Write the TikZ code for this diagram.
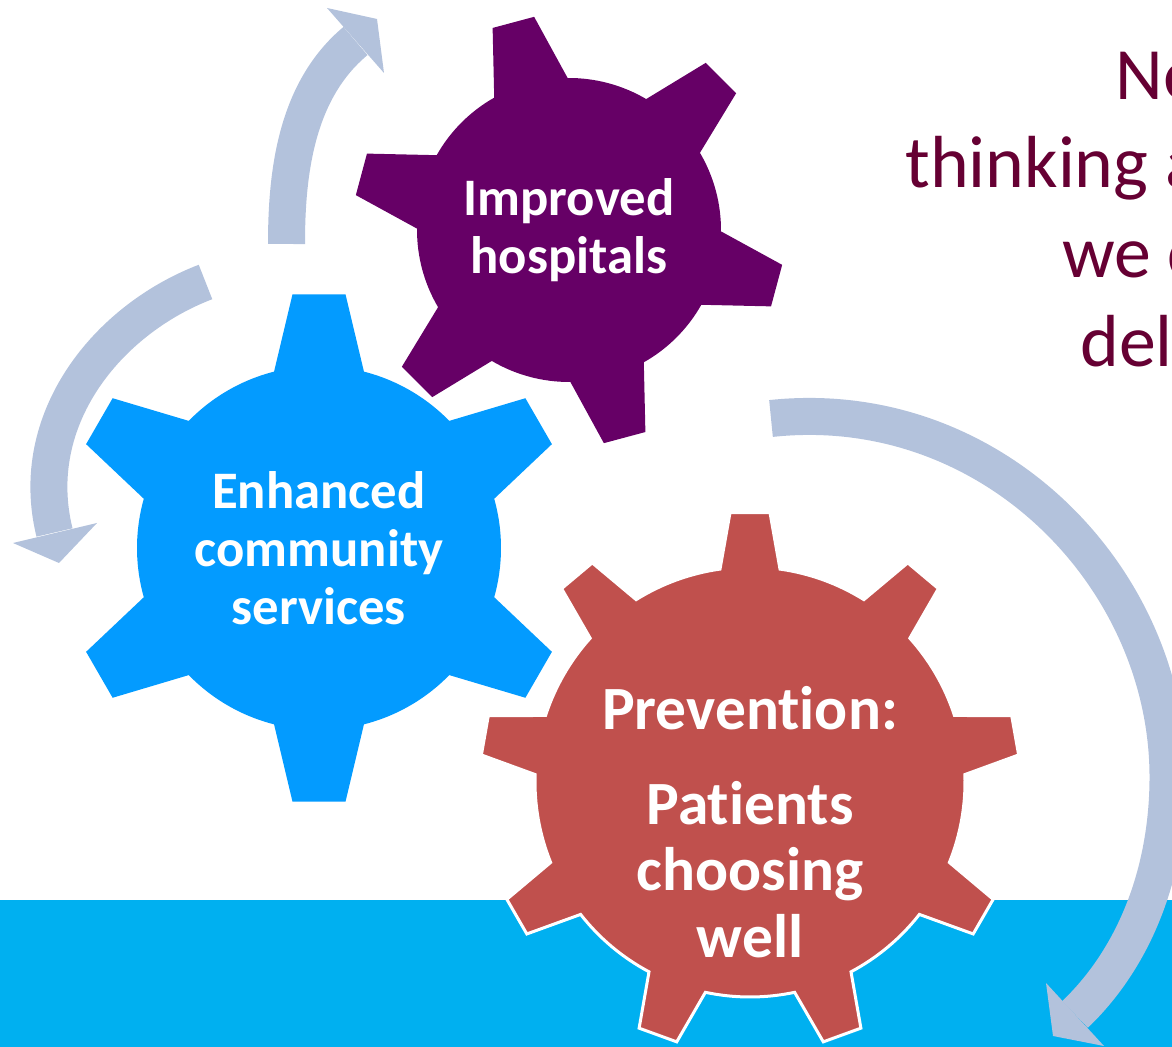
\documentclass[tikz,border=0pt]{standalone}
\usepackage{fontspec}
\setmainfont{Carlito}[Ligatures=NoCommon]
\definecolor{hospurple}{RGB}{102,0,102}
\definecolor{commblue}{RGB}{3,155,255}
\definecolor{prevred}{RGB}{192,80,77}
\definecolor{bandcyan}{RGB}{0,176,240}
\definecolor{cyclegrey}{RGB}{179,194,220}
\definecolor{titlemaroon}{RGB}{102,0,51}
\begin{document}
\begin{tikzpicture}[x=0.02cm,y=0.02cm,
  gearlabel/.style={text=white,font=\bfseries\fontsize{30}{33}\selectfont,align=center},
  cyclearrow/.style={draw=cyclegrey,line width=0.74cm},
  headtip/.style={fill=cyclegrey},
  bigtext/.style={text=titlemaroon,font=\fontsize{42}{50}\selectfont,anchor=base west,inner sep=0pt}]
\useasboundingbox (0,0) rectangle (1172,1047);
\clip (0,0) rectangle (1172,1047);
\fill[bandcyan] (0,0) rectangle (1172,147);
% curved arrows round the gears
\coordinate (a1s) at (286.5,803);
\coordinate (a1e) at (355.5,1006);
\draw[cyclearrow] (a1s) .. controls (286.5,873) and (295.5,956) .. (a1e);
\fill[headtip] (327,1039) -- (377,1028) -- (384,974) -- cycle;
\coordinate (a2s) at (205.5,765);
\coordinate (a2e) at (54.5,514.5);
\draw[cyclearrow] (a2s) .. controls (107.5,727.5) and (26.5,628) .. (a2e);
\fill[headtip] (13,504) -- (59,484) -- (97,524) -- cycle;
\coordinate (a3s) at (771,628.5);
\coordinate (a3m) at (1168,270);
\coordinate (a3e) at (1075,32.5);
\draw[cyclearrow] (a3s) .. controls (991,652) and (1168,470) .. (a3m)
  .. controls (1168,180) and (1138,93) .. (a3e);
\fill[headtip] (1046,64) -- (1053,11) -- (1104,1) -- cycle;
% gears
\begin{scope}[shift={(569,817)}]
\fill[hospurple] (90.52:152) \foreach \k in {0,...,5} {
  -- ({105+60*\k-5.71}:216) -- ({105+60*\k+5.71}:216) -- ({105+60*\k+14.48}:152)
  arc[start angle={105+60*\k+14.48}, end angle={165+60*\k-14.48}, radius=152]} -- cycle;
\end{scope}
\begin{scope}[shift={(319,499)}]
\fill[commblue] (75.7:182) \foreach \k in {0,...,5} {
  -- ({90+60*\k-5.97}:255) -- ({90+60*\k+5.97}:255) -- ({90+60*\k+14.3}:182)
  arc[start angle={90+60*\k+14.3}, end angle={150+60*\k-14.3}, radius=182]} -- cycle;
\end{scope}
\begin{scope}[shift={(750,265)}]
\filldraw[fill=prevred,draw=white,line width=0.06cm] (81.98:215) \foreach \k in {0,...,8} {
  -- ({90+40*\k-4.25}:270) -- ({90+40*\k+4.25}:270) -- ({90+40*\k+8.02}:215)
  arc[start angle={90+40*\k+8.02}, end angle={130+40*\k-8.02}, radius=215]} -- cycle;
\end{scope}
% labels
\node[gearlabel] (hosp) at (569,817) {Improved\\hospitals};
\node[gearlabel] (comm) at (319,499) {Enhanced\\community\\services};
\node[gearlabel,font=\bfseries\fontsize{35}{38}\selectfont] (prev) at (750,225)
  {Prevention:\\[16pt]Patients\\choosing\\well};
\node[bigtext] (ne) at (1115,947) {Ne};
\node[bigtext] (thinking) at (905,859) {thinking a};
\node[bigtext] (we) at (1062,769) {we c};
\node[bigtext] (del) at (1080,680) {del};
\end{tikzpicture}
\end{document}
